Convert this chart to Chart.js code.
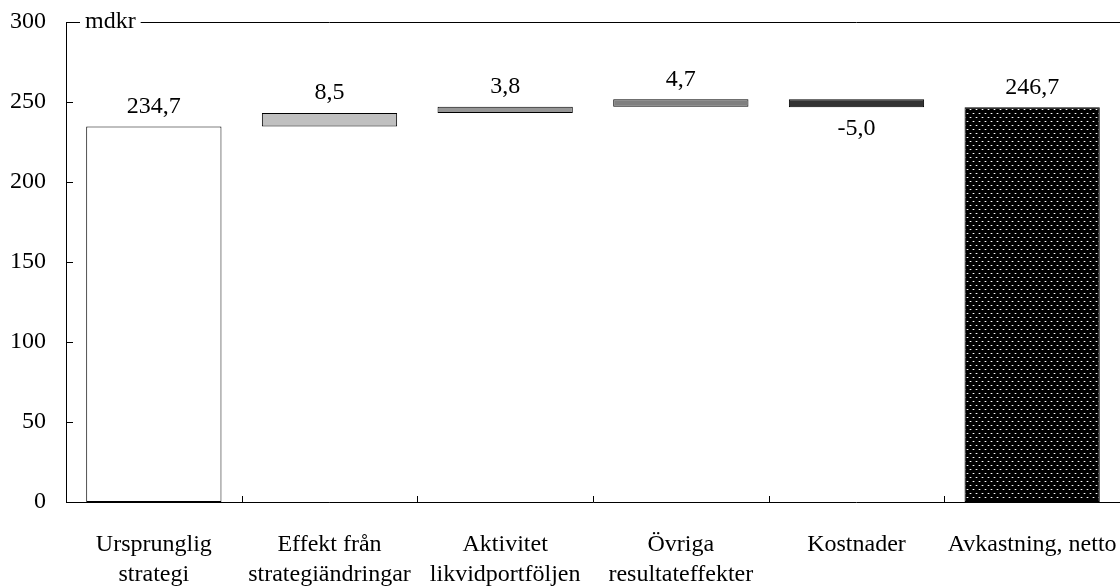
<!DOCTYPE html>
<html>
<head>
<meta charset="utf-8">
<script src="https://cdn.jsdelivr.net/npm/chart.js@4.4.1/dist/chart.umd.min.js"></script>
<style>
  body { margin: 0; background: #fff; }
  canvas { display: block; }
</style>
</head>
<body>
<canvas id="chart" width="1120" height="586"></canvas>
<script>
'use strict';

// steps of the waterfall, first and last bar start at zero
const categories = [
  ['Ursprunglig', 'strategi'],
  ['Effekt från', 'strategiändringar'],
  ['Aktivitet', 'likvidportföljen'],
  ['Övriga', 'resultateffekter'],
  ['Kostnader'],
  ['Avkastning, netto']
];
const changes = [234.7, 8.5, 3.8, 4.7, -5.0, 246.7];
const totals = [true, false, false, false, false, true];
const fills = ['#ffffff', '#c0c0c0', '#969696', '#808080', '#333333', 'dots'];
const yTicks = [0, 50, 100, 150, 200, 250, 300];
const unitLabel = 'mdkr';

const FONT = 'Liberation Serif';
const SIZE = 24;

// black with small white dots for the net bar
function dotPattern() {
  let c = document.createElement('canvas');
  c.width = 6;
  c.height = 8;
  let g = c.getContext('2d');
  g.fillStyle = '#000';
  g.fillRect(0, 0, 6, 8);
  g.fillStyle = '#555';
  g.fillRect(0, 1, 3, 1);
  g.fillRect(3, 5, 3, 1);
  g.fillStyle = '#fff';
  g.fillRect(1, 1, 1, 1);
  g.fillRect(4, 5, 1, 1);
  return g.createPattern(c, 'repeat');
}

// floating [from, to] ranges for every bar
let ranges = [];
let running = 0;
changes.forEach((v, i) => {
  if (totals[i]) {
    ranges.push([0, v]);
    running = v;
  } else {
    ranges.push([running, running + v]);
    running += v;
  }
});

const pattern = dotPattern();
const colors = fills.map(f => f === 'dots' ? pattern : f);

function fmt(v) {
  return v.toFixed(1).replace('.', ',');
}

const extras = {
  id: 'extras',
  afterDatasetsDraw(chart) {
    const ctx = chart.ctx;
    const area = chart.chartArea;
    const x = chart.scales.x;
    const y = chart.scales.y;
    ctx.save();
    ctx.strokeStyle = '#000';
    ctx.lineWidth = 1;

    // axes and top frame line
    ctx.beginPath();
    ctx.moveTo(area.left + 0.5, area.top);
    ctx.lineTo(area.left + 0.5, area.bottom + 0.5);
    ctx.lineTo(area.right, area.bottom + 0.5);
    ctx.moveTo(area.left, area.top + 0.5);
    ctx.lineTo(area.right, area.top + 0.5);
    ctx.stroke();

    // inward ticks on the value axis
    ctx.beginPath();
    yTicks.forEach(t => {
      let py = Math.round(y.getPixelForValue(t)) + 0.5;
      ctx.moveTo(area.left, py);
      ctx.lineTo(area.left + 7, py);
    });
    // category separators on the bottom axis
    for (let i = 1; i < categories.length; i++) {
      let px = Math.round((x.getPixelForValue(i - 1) + x.getPixelForValue(i)) / 2) + 0.5;
      ctx.moveTo(px, area.bottom);
      ctx.lineTo(px, area.bottom - 6);
    }
    ctx.stroke();

    // unit label cut into the top line
    ctx.font = SIZE + 'px "' + FONT + '"';
    let w = ctx.measureText(unitLabel).width;
    ctx.fillStyle = '#fff';
    ctx.fillRect(area.left + 14, area.top - 8, w + 10, 16);
    ctx.fillStyle = '#000';
    ctx.textAlign = 'left';
    ctx.textBaseline = 'middle';
    ctx.fillText(unitLabel, area.left + 19, area.top);

    // value labels above rising bars, below falling ones
    ctx.textAlign = 'center';
    chart.getDatasetMeta(0).data.forEach((bar, i) => {
      let r = ranges[i];
      let text = fmt(changes[i]);
      if (r[1] >= r[0]) {
        ctx.fillText(text, bar.x, y.getPixelForValue(r[1]) - 20);
      } else {
        ctx.fillText(text, bar.x, y.getPixelForValue(r[1]) + 21);
      }
    });
    ctx.restore();
  }
};

new Chart(document.getElementById('chart'), {
  type: 'bar',
  data: {
    labels: categories,
    datasets: [{
      data: ranges,
      backgroundColor: colors,
      borderColor: '#000',
      borderWidth: 1,
      borderSkipped: false,
      categoryPercentage: 1,
      barPercentage: 0.77
    }]
  },
  options: {
    responsive: false,
    animation: false,
    layout: { padding: { top: 22, right: 0, left: 0, bottom: 0 } },
    plugins: {
      legend: { display: false },
      tooltip: { enabled: false }
    },
    scales: {
      x: {
        offset: true,
        grid: { display: false, drawTicks: false },
        border: { display: false },
        ticks: {
          color: '#000',
          padding: 28,
          maxRotation: 0,
          autoSkip: false,
          font: { family: FONT, size: SIZE, lineHeight: 1.25 }
        },
        afterFit: s => {
          s.height = 84;
          s.paddingLeft = 0;
          s.paddingRight = 0;
        }
      },
      y: {
        min: 0,
        max: 300,
        afterBuildTicks: s => { s.ticks = yTicks.map(v => ({ value: v })); },
        grid: { display: false, drawTicks: false },
        border: { display: false },
        ticks: {
          color: '#000',
          padding: 20,
          font: { family: FONT, size: SIZE }
        },
        afterFit: s => {
          s.width = 66;
          s.paddingTop = 0;
          s.paddingBottom = 0;
        }
      }
    }
  },
  plugins: [extras]
});
</script>
</body>
</html>
